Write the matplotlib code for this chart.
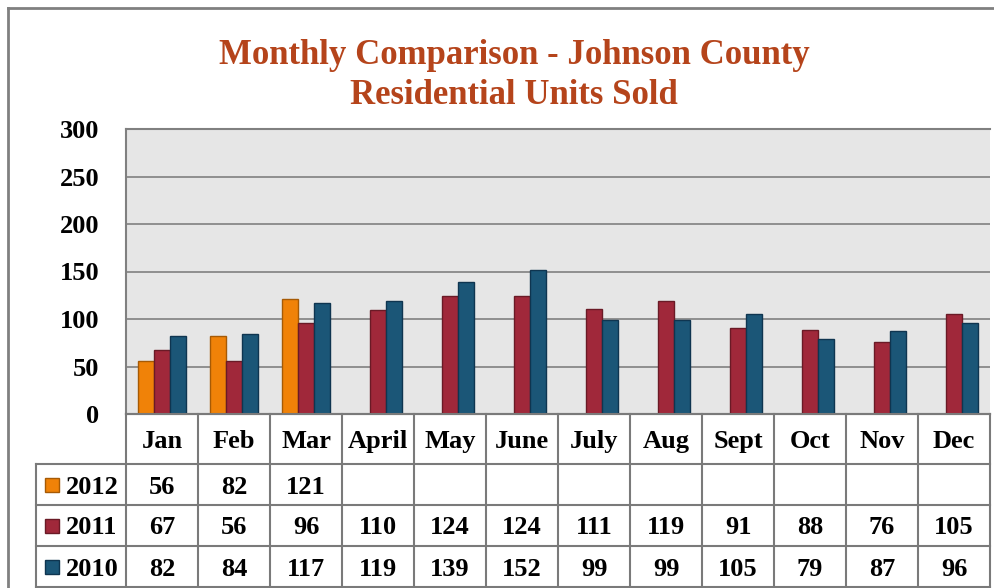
import matplotlib.pyplot as plt
import numpy as np

# data
months = ['Jan', 'Feb', 'Mar', 'April', 'May', 'June', 'July', 'Aug', 'Sept', 'Oct', 'Nov', 'Dec']
years = ['2012', '2011', '2010']
sold_2012 = [56, 82, 121, None, None, None, None, None, None, None, None, None]
sold_2011 = [67, 56, 96, 110, 124, 124, 111, 119, 91, 88, 76, 105]
sold_2010 = [82, 84, 117, 119, 139, 152, 99, 99, 105, 79, 87, 96]
y_ticks = [0, 50, 100, 150, 200, 250, 300]

colours = ['#F08208', '#A0283A', '#1B5677']
edges = ['#A65A05', '#6A1A26', '#0F3550']
grey = '#808080'
serif = ['Liberation Serif', 'DejaVu Serif']
fs = 19

W, H = 995, 588
left, right, top, bottom = 126, 990, 129, 414
fig = plt.figure(figsize=(W / 100, H / 100), dpi=100)

# bar chart
ax = fig.add_axes([left / W, 1 - bottom / H, (right - left) / W, (bottom - top) / H])
ax.set_facecolor('#E6E6E6')
x = np.arange(len(months))
bw = 0.225
for k, series in enumerate([sold_2012, sold_2011, sold_2010]):
    vals = [np.nan if v is None else v for v in series]
    ax.bar(x + (k - 1) * bw, vals, bw, color=colours[k], edgecolor=edges[k], linewidth=1, zorder=3)
ax.set_xlim(-0.5, len(months) - 0.5)
ax.set_ylim(0, 300)
ax.set_yticks(y_ticks)
ax.set_yticklabels([str(t) for t in y_ticks], family=serif, weight='bold', fontsize=fs)
ax.tick_params(axis='y', length=0, pad=19)
ax.set_xticks([])
ax.grid(axis='y', color=grey, linewidth=1.2, zorder=1)
for s in ['top', 'left', 'bottom']:
    ax.spines[s].set_color(grey)
    ax.spines[s].set_linewidth(1.5)
ax.spines['right'].set_visible(False)

# overlay in pixel coordinates for border, title and data table
ov = fig.add_axes([0, 0, 1, 1], facecolor='none')
ov.set_xlim(0, W)
ov.set_ylim(H, 0)
ov.axis('off')
ov.plot([8, W], [8, 8], color=grey, linewidth=2)
ov.plot([8, 8], [8, H], color=grey, linewidth=2)

ov.text(514, 52, 'Monthly Comparison - Johnson County', ha='center', va='center_baseline',
        family=serif, weight='bold', fontsize=25, color='#B5441B')
ov.text(514, 91, 'Residential Units Sold', ha='center', va='center_baseline',
        family=serif, weight='bold', fontsize=25, color='#B5441B')

colw = (right - left) / len(months)
row_edges = [414, 464, 505, 546, 587]
leg_left = 36
lc = '#7A7A7A'
# horizontal lines
ov.plot([left, right], [row_edges[0]] * 2, color=lc, lw=1.5)
for ry in row_edges[1:]:
    ov.plot([leg_left, right], [ry, ry], color=lc, lw=1.5)
# vertical lines
ov.plot([leg_left, leg_left], [row_edges[1], row_edges[-1]], color=lc, lw=1.5)
for i in range(len(months) + 1):
    cx = left + i * colw
    ov.plot([cx, cx], [row_edges[0], row_edges[-1]], color=lc, lw=1.5)

for i, m in enumerate(months):
    ov.text(left + (i + 0.5) * colw, (row_edges[0] + row_edges[1]) / 2, m,
            ha='center', va='center_baseline', family=serif, weight='bold', fontsize=fs)

for r, (yr, series) in enumerate(zip(years, [sold_2012, sold_2011, sold_2010])):
    cy = (row_edges[r + 1] + row_edges[r + 2]) / 2
    ov.add_patch(plt.Rectangle((45, cy - 7), 14, 14, facecolor=colours[r], edgecolor=edges[r], lw=1))
    ov.text(66, cy, yr, ha='left', va='center_baseline', family=serif, weight='bold', fontsize=fs)
    for i, v in enumerate(series):
        if v is not None:
            ov.text(left + (i + 0.5) * colw, cy, str(v), ha='center', va='center_baseline',
                    family=serif, weight='bold', fontsize=fs)

fig.savefig('out.png', dpi=100)
